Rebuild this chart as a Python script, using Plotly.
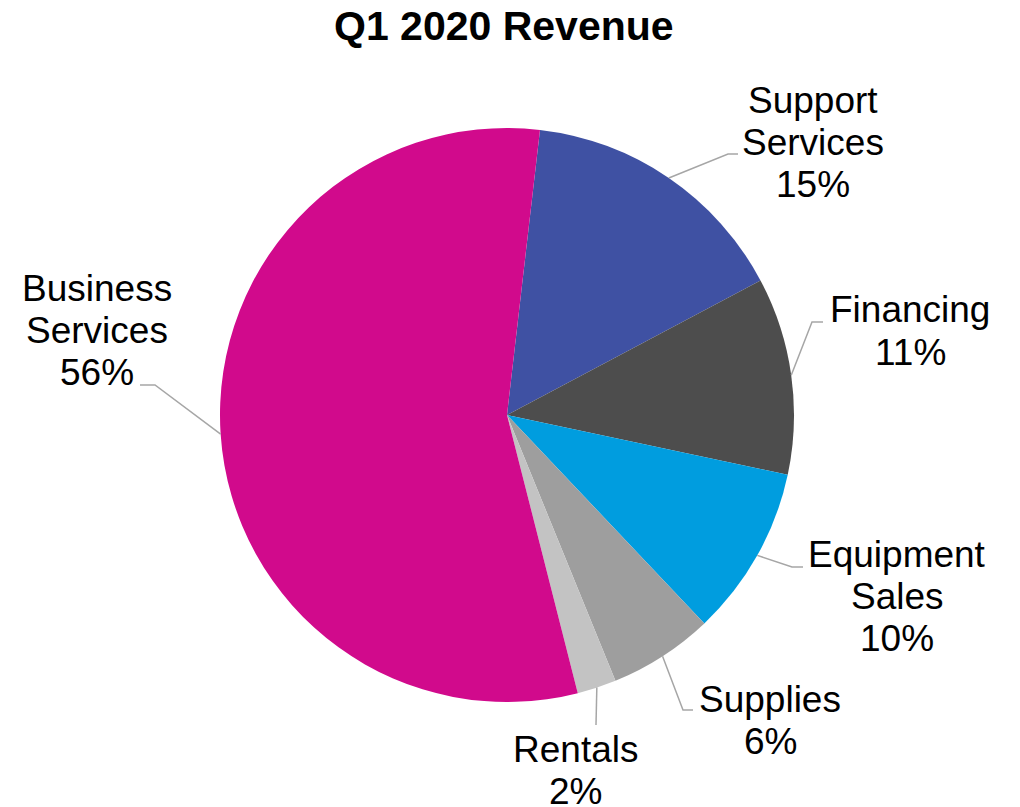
import math
import plotly.graph_objects as go

# ---- data ----
categories = ["Support Services", "Financing", "Equipment Sales", "Supplies", "Rentals", "Business Services"]
values = [15.4, 11.1, 9.6, 5.9, 2.2, 55.8]
colors = ["#3F51A3", "#4D4D4D", "#009DDF", "#9E9E9E", "#C3C3C3", "#D10A8C"]
title_text = "Q1 2020 Revenue"

# ---- layout constants (target-image pixels, y measured from top) ----
PAGE_MARGIN = 8          # default body margin of the html page
W, H = 1020 - PAGE_MARGIN, 807 - PAGE_MARGIN
CX, CY, R = 507, 415, 287
ROTATION = 6.6
FONT = "Liberation Sans, Arial, sans-serif"
LABEL_SIZE = 37
TITLE_SIZE = 41
LINE_PITCH = 42
# label block: (x center, y center of first line)
label_pos = [(813, 100), (910, 310), (897, 554), (770, 699), (575, 749), (97, 288)]
# leader line elbow and end points
leader_pts = [((728, 154), (738, 154)), ((812, 322), (823, 322)), ((792, 567), (803, 567)),
              ((683, 710), (693, 710)), ((596, 725), (596, 725)), ((155, 385), (140, 385))]


def px(x):
    return (x - PAGE_MARGIN) / W


def py(y):
    return 1 - (y - PAGE_MARGIN) / H


fig = go.Figure()
fig.add_trace(go.Pie(
    labels=categories,
    values=values,
    marker=dict(colors=colors, line=dict(width=0)),
    sort=False,
    direction="clockwise",
    rotation=ROTATION,
    textinfo="none",
    showlegend=False,
    domain=dict(x=[px(CX - R), px(CX + R)], y=[py(CY + R), py(CY - R)]),
))

total = sum(values)
cum = ROTATION
annotations = []
shapes = []
for i, (name, v) in enumerate(zip(categories, values)):
    span = v / total * 360
    mid = math.radians(cum + span / 2)
    cum += span
    sx = CX + R * math.sin(mid)
    sy = CY - R * math.cos(mid)
    (ex, ey), (fx, fy) = leader_pts[i]
    shapes.append(dict(
        type="path", xref="paper", yref="paper",
        path=f"M {px(sx)},{py(sy)} L {px(ex)},{py(ey)} L {px(fx)},{py(fy)}",
        line=dict(color="#A6A6A6", width=1.5),
    ))
    pct = f"{round(v / total * 100)}%"
    lines = name.split(" ") + [pct]
    lx, ly = label_pos[i]
    for k, t in enumerate(lines):
        annotations.append(dict(
            x=px(lx), y=py(ly + k * LINE_PITCH), xref="paper", yref="paper",
            text=t, showarrow=False, xanchor="center", yanchor="middle",
            font=dict(family=FONT, size=LABEL_SIZE, color="#000000"),
        ))

annotations.append(dict(
    x=px(504), y=py(26), xref="paper", yref="paper",
    text=f"<b>{title_text}</b>", showarrow=False, xanchor="center", yanchor="middle",
    font=dict(family=FONT, size=TITLE_SIZE, color="#000000"),
))

fig.update_layout(
    width=W, height=H,
    margin=dict(l=0, r=0, t=0, b=0),
    paper_bgcolor="white", plot_bgcolor="white",
    annotations=annotations, shapes=shapes,
)

fig.write_html("out.html")
